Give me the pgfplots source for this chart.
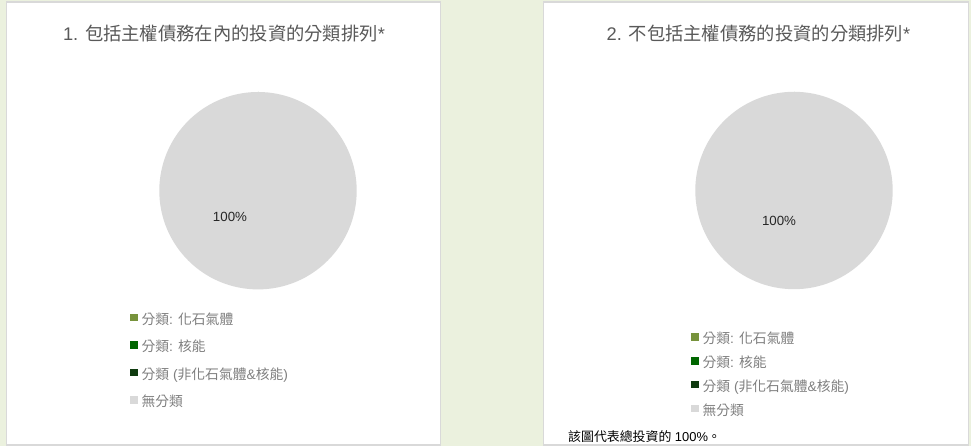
\documentclass[border=0pt]{standalone}
\usepackage{fontspec}
\setmainfont{Liberation Sans}
\newfontfamily\cjk{Noto Sans CJK TC}
\usepackage{pgfplots}
\pgfplotsset{compat=1.18}
\usepackage{pgfplotstable}

\definecolor{bggreen}{HTML}{EBF1DE}
\definecolor{panelborder}{HTML}{D9D9D9}
\definecolor{titlegray}{HTML}{595959}
\definecolor{legendgray}{HTML}{7F7F7F}
\definecolor{cFossil}{HTML}{77933C}
\definecolor{cNuclear}{HTML}{006600}
\definecolor{cOther}{HTML}{0F3B0F}
\definecolor{cNone}{HTML}{D9D9D9}

% one row per slice: pie centre (0,0), v = share in %
\pgfplotstableread{
x y v
0 0 0
}\fossilA
\pgfplotstableread{
x y v
0 0 0
}\nuclearA
\pgfplotstableread{
x y v
0 0 0
}\otherA
\pgfplotstableread{
x y v
0 0 100
}\noneA

\def\pieR{98.7bp}
\def\pieStart{0}
\def\pieColor{black}
% slice drawn from the point meta (share in %), clockwise from 12 o'clock
\pgfdeclareplotmark{pieslice}{%
  \pgfkeys{/pgf/fpu=true,/pgf/fpu/output format=fixed}%
  \pgfmathparse{\pgfplotspointmeta}\let\pieVal\pgfmathresult
  \pgfkeys{/pgf/fpu=false}%
  \pgfmathsetmacro\pieA{90-3.6*\pieStart}%
  \pgfmathsetmacro\pieB{\pieA-3.6*\pieVal}%
  \pgfsetfillcolor{\pieColor}%
  \pgfpathmoveto{\pgfpointorigin}%
  \pgfpathlineto{\pgfpointpolar{\pieA}{\pieR}}%
  \pgfpatharc{\pieA}{\pieB}{\pieR}%
  \pgfpathclose
  \pgfusepathqfill}

\pgfplotsset{
  pie/.style 2 args={scatter, only marks, mark=pieslice, point meta=explicit,
    scatter/use mapped color={draw=none, fill=#1},
    /utils/exec={\def\pieStart{#2}\def\pieColor{#1}},
    legend image code/.code={\fill[fill=#1, draw=none] (0bp,-0.3bp) rectangle (7.4bp,7.1bp);}},
  piechart/.style={hide axis, x=1bp, y=1bp, xmin=-100, xmax=100, ymin=-100, ymax=100,
    clip=false, anchor=origin, legend cell align=left},
  pielegend/.style={draw=none, fill=none, inner sep=0pt, column sep=4bp, row sep=#1,
    font=\fontsize{13.8bp}{16bp}\selectfont, text=legendgray,
    nodes={inner sep=0pt, text height=10bp, text depth=3.5bp}},
  pielabel/.style={nodes near coords={\pgfmathprintnumber{\pgfplotspointmeta}\%},
    /pgf/number format/assume math mode=true,
    every node near coord/.append style={anchor=center, text=black!85,
      font=\fontsize{13.3bp}{16bp}\selectfont}},
}

\begin{document}
\begin{tikzpicture}[x=1bp, y=1bp]
\fill[bggreen] (0,0) rectangle (971,446);
\filldraw[fill=white, draw=panelborder, line width=1.5bp] (6.5,1) rectangle (440.5,444);
\filldraw[fill=white, draw=panelborder, line width=1.5bp] (543.5,1) rectangle (968.5,444);

\node[font=\fontsize{18.3bp}{21bp}\selectfont, text=titlegray] at (224,412)
  {1. {\cjk 包括主權債務在內的投資的分類排列}*};
\node[font=\fontsize{18.3bp}{21bp}\selectfont, text=titlegray] at (758.5,412)
  {2. {\cjk 不包括主權債務的投資的分類排列}*};

\begin{axis}[piechart, at={(258,255.3)},
  legend style={pielegend=13.5bp, at={(axis cs:-128,-123.2)}, anchor=north west}]
  \addplot[pie={cFossil}{0}] table[meta=v] {\fossilA};
  \addlegendentry{{\cjk 分類}: {\cjk 化石氣體}}
  \addplot[pie={cNuclear}{0}] table[meta=v] {\nuclearA};
  \addlegendentry{{\cjk 分類}: {\cjk 核能}}
  \addplot[pie={cOther}{0}] table[meta=v] {\otherA};
  \addlegendentry{{\cjk 分類} ({\cjk 非化石氣體}\&{\cjk 核能})}
  \addplot[pie={cNone}{0}, pielabel,
    every node near coord/.append style={xshift=-28bp, yshift=-26bp}] table[meta=v] {\noneA};
  \addlegendentry{{\cjk 無分類}}
\end{axis}

\begin{axis}[piechart, at={(794,255.5)},
  legend style={pielegend=10bp, at={(axis cs:-103,-142.7)}, anchor=north west}]
  \addplot[pie={cFossil}{0}] table[meta=v] {\fossilA};
  \addlegendentry{{\cjk 分類}: {\cjk 化石氣體}}
  \addplot[pie={cNuclear}{0}] table[meta=v] {\nuclearA};
  \addlegendentry{{\cjk 分類}: {\cjk 核能}}
  \addplot[pie={cOther}{0}] table[meta=v] {\otherA};
  \addlegendentry{{\cjk 分類} ({\cjk 非化石氣體}\&{\cjk 核能})}
  \addplot[pie={cNone}{0}, pielabel,
    every node near coord/.append style={xshift=-15bp, yshift=-30bp}] table[meta=v] {\noneA};
  \addlegendentry{{\cjk 無分類}}
\end{axis}

\node[anchor=west, inner sep=0pt, font=\fontsize{12.9bp}{15bp}\selectfont] at (568,9.3)
  {{\cjk 該圖代表總投資的} 100\%{\cjk 。}};
\end{tikzpicture}
\end{document}
